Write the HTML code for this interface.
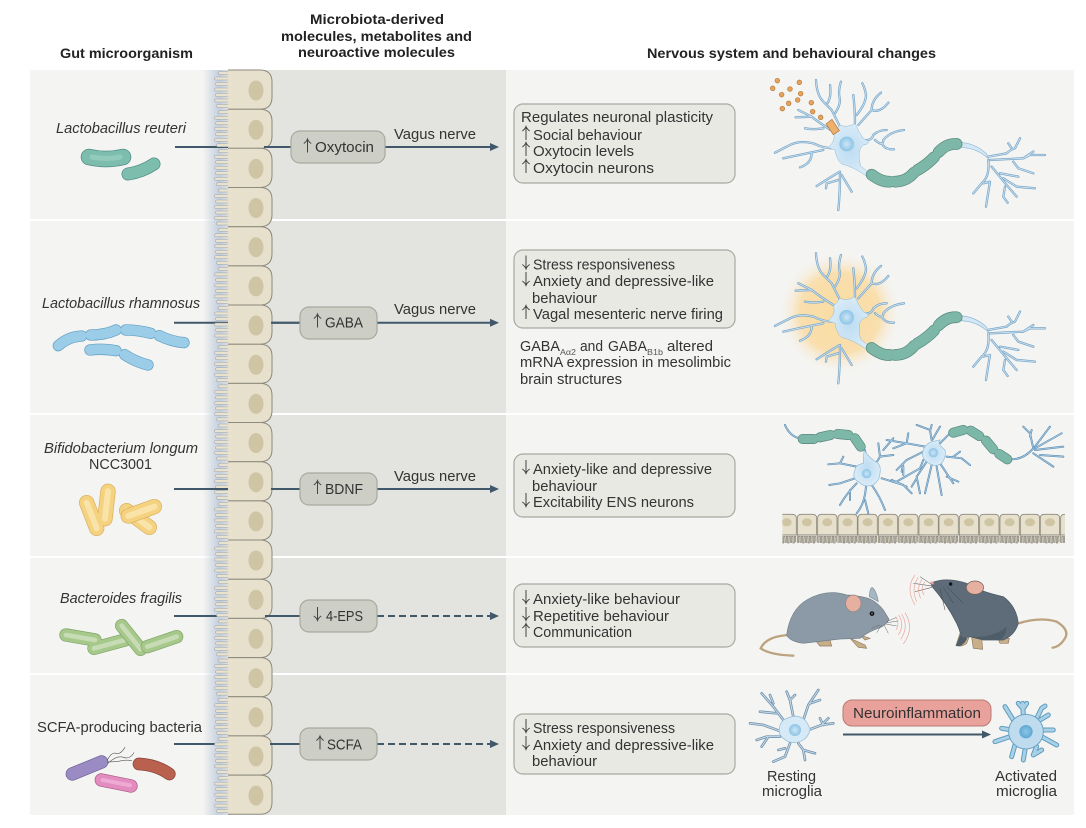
<!DOCTYPE html>
<html><head><meta charset="utf-8">
<style>
html,body{margin:0;padding:0;background:#fff}
svg{display:block}
text{font-family:"Liberation Sans",sans-serif;font-size:15px;fill:#333}
.b{font-weight:bold;font-size:14px;fill:#222}
.i{font-style:italic;font-size:14.5px}
.s{font-size:8px;fill:#555}
</style></head><body>
<svg width="1086" height="828" viewBox="0 0 1086 828" xmlns="http://www.w3.org/2000/svg">
<defs>
<linearGradient id="sh" x1="0" x2="1" y1="0" y2="0"><stop offset="0" stop-color="#c3cfdd" stop-opacity="0"/><stop offset=".6" stop-color="#c3cfde"/><stop offset="1" stop-color="#dfe2e2"/></linearGradient>
<radialGradient id="som"><stop offset="0" stop-color="#bcdcf2"/><stop offset="1" stop-color="#d9ebf7"/></radialGradient>
<radialGradient id="nuc"><stop offset="0" stop-color="#cde6f6"/><stop offset="1" stop-color="#8cc4e6"/></radialGradient>
<radialGradient id="nuc2"><stop offset="0" stop-color="#8cc6e8"/><stop offset="1" stop-color="#5fa8d3"/></radialGradient>
<radialGradient id="glow"><stop offset="0" stop-color="#f9dca0"/><stop offset=".65" stop-color="#f9dfae"/><stop offset="1" stop-color="#f4f4f2" stop-opacity="0"/></radialGradient>
<clipPath id="cm"><rect x="127" y="845" width="848" height="100"/></clipPath>

<path id="ua" d="M4 14V.5M.3 5Q3 3.2 4 .5Q5 3.2 7.7 5" fill="none" stroke="#444" stroke-width="1"/>
<path id="da" d="M4 0V13.5M.3 9Q3 10.8 4 13.5Q5 10.8 7.7 9" fill="none" stroke="#444" stroke-width="1"/>

<g id="cell">
<path d="M228 0H260Q272 0 272 12V27Q272 39.2 260 39.2H228" fill="#e6e0cc" stroke="#8d897b" stroke-width="1"/>
<ellipse cx="256" cy="20.5" rx="7.5" ry="10" fill="#cfc4a4"/>
<path d="M227 3H220M227 8.5H216M227 14H217M227 19.5H216M227 25H217M227 30.5H216M227 36H218" fill="none" stroke="#9ca2a8" stroke-width="3.5" stroke-linecap="round"/>
<path d="M232 3H220M232 8.5H216M232 14H217M232 19.5H216M232 25H217M232 30.5H216M232 36H218" fill="none" stroke="#e8e2cf" stroke-width="2.5" stroke-linecap="round"/>
</g>

<g id="mc">
<path d="M0 62V12Q0 0 12 0H46Q58 0 58 12V62Z" fill="#e6e0cc" stroke="#8d897b" stroke-width="2.5"/>
<ellipse cx="29" cy="24" rx="15" ry="12" fill="#cfc4a4"/>
<path d="M0 62V84H4V66H8V84H12V66H16V86H20V66H24V84H28V66H32V86H36V66H40V84H44V66H48V86H52V66H56V84" stroke="#8d897b" stroke-width="2.5" fill="#e6e0cc"/>
</g>

<path id="n1" d="M300 200L275 150L250 125Q230 105 228 60M262 130Q275 110 270 75M285 160Q305 130 298 110Q295 90 303 65M345 190Q345 150 340 105M350 165Q378 130 378 105Q375 85 367 70M355 195L395 150Q395 120 423 98M395 150Q420 160 445 128M280 215Q240 190 215 170L175 150M215 170L167 172M250 205Q220 210 195 205M365 240Q395 245 400 225Q415 210 440 210M405 240Q430 262 430 240Q450 215 492 210M425 250Q435 270 462 268M280 265Q250 265 220 250Q180 240 150 255L105 278M150 255L130 265M250 270Q200 280 130 295M215 280Q215 310 180 322M300 335Q290 340 230 378M300 340Q300 400 295 450M295 360L260 370L258 385M305 345Q320 370 335 395M745 290L800 280Q810 270 825 265L840 235M815 265L805 250M750 300L850 295L880 275M850 295L870 285L915 285M820 305L835 325L880 340M745 300Q750 350 725 370L700 400M730 370L750 365L738 440M755 320L800 375L830 410M780 340L835 350M790 355L830 380L885 385M795 380L790 410L803 428" fill="none" stroke-linecap="round" stroke-linejoin="round"/>

<path id="n1soma" d="M300 195Q320 205 345 190Q355 215 370 235Q400 250 370 255Q350 270 362 318L395 345L385 352Q340 320 305 312Q290 300 285 270Q270 265 265 262Q290 240 280 218Q290 210 300 195Z" fill="url(#som)" stroke="#8fb8d4" stroke-width="1.5"/>
<path id="n1ax" d="M655 247Q705 248 740 282L745 296L738 290Q705 262 655 262Z" fill="#d3e7f5" stroke="#8fb8d4" stroke-width="2"/>
<path id="n1my" d="M395 344Q425 367 450 365M466 365Q500 364 522 338M533 330Q560 315 582 292M596 276Q620 250 650 252" fill="none" stroke-linecap="round"/>

<path id="n3" d="M350 710L300 700L265 703M310 680L300 700M345 745L300 760L268 765M350 760Q320 790 300 825M330 780L330 810M378 770Q375 820 350 850M375 810L385 850M395 765Q420 800 435 840M405 705L420 680L415 640M420 680L460 675M430 660L460 625M425 745L490 765L515 790M455 750L500 770M470 755L540 715L550 690M490 735L490 710M555 650L500 640L440 630M500 640L505 610M460 655L500 640M550 665L500 690L470 720M490 700L485 725M560 695L530 740L540 790M530 745L515 770M575 705L555 790M590 710L605 795M600 700L640 760M620 740L655 755M620 680L665 685L690 705M640 680L660 665M575 630L570 600L530 585M570 605L575 585M578 628L600 590M880 655L870 610L850 590M870 620L875 600M885 650L915 610L930 590M885 655L965 610M885 660L970 650M880 670L940 710M900 675L970 680M135 585Q150 620 180 625M810 688Q850 690 880 655M600 640L630 610M375 660L380 700" fill="none" stroke-linecap="round" stroke-linejoin="round"/>
<path id="n3my" d="M188 627H222M240 622L272 615M293 612L325 615M345 625L362 650M640 608L670 600M692 602L718 618M738 632L760 658M778 672L802 688" fill="none" stroke-linecap="round"/>

<path id="mg" d="M130 480L100 440L65 400M100 430L90 405M110 460L60 455M125 515L70 495L30 490M120 530L80 530L50 540M85 530L65 560M160 470L150 420L140 395M150 420L165 405M190 480L205 435L235 390M210 430L240 420M205 510L245 495L280 490M250 495L240 475M245 495L265 475M150 550L135 590L100 605M135 565L115 570M175 550L190 570L225 580M190 570L195 600" fill="none" stroke-linecap="round" stroke-linejoin="round"/>
<path id="am" d="M850 465L848 430M848 445L835 430M850 445L860 430M890 475L905 445L915 438M820 480L795 440M815 510L785 505M810 530L765 545M825 555L815 590M855 570L850 600M890 560L880 585L905 570M905 530L950 555M910 510L940 510M900 480L925 465" fill="none" stroke-linecap="round" stroke-linejoin="round"/>
</defs>

<!-- panels -->
<rect x="30" y="70" width="1044" height="149" fill="#f4f4f2"/>
<rect x="30" y="221" width="1044" height="192" fill="#f4f4f2"/>
<rect x="30" y="415" width="1044" height="141" fill="#f4f4f2"/>
<rect x="30" y="558" width="1044" height="115" fill="#f4f4f2"/>
<rect x="30" y="675" width="1044" height="140" fill="#f4f4f2"/>
<g fill="#e3e4df">
<rect x="262" y="70" width="244" height="149"/>
<rect x="262" y="221" width="244" height="192"/>
<rect x="262" y="415" width="244" height="141"/>
<rect x="262" y="558" width="244" height="115"/>
<rect x="262" y="675" width="244" height="140"/>
</g>
<rect x="203" y="70" width="27" height="745" fill="url(#sh)"/>

<!-- connector lines -->
<g stroke="#41586a" stroke-width="2" fill="none">
<path d="M175 147H290M385 147H492"/>
<path d="M174 322.7H300M377 322.7H492"/>
<path d="M174 489H300M377 489H492"/>
<path d="M174 616H300"/>
<path d="M174 744H300"/>
<path d="M377 616H492M377 744H492" stroke-dasharray="7 4"/>
<path d="M843 734.5H985"/>
</g>
<g fill="#41586a">
<path d="M490 143L499 147L490 151Z"/>
<path d="M490 318.7L499 322.7L490 326.7Z"/>
<path d="M490 485L499 489L490 493Z"/>
<path d="M490 612L499 616L490 620Z"/>
<path d="M490 740L499 744L490 748Z"/>
<path d="M982 730.5L991 734.5L982 738.5Z"/>
</g>

<!-- epithelium -->
<use href="#cell" y="70"/><use href="#cell" y="109.2"/><use href="#cell" y="148.3"/><use href="#cell" y="187.5"/><use href="#cell" y="226.7"/><use href="#cell" y="265.9"/><use href="#cell" y="305"/><use href="#cell" y="344.2"/><use href="#cell" y="383.4"/><use href="#cell" y="422.5"/><use href="#cell" y="461.7"/><use href="#cell" y="500.9"/><use href="#cell" y="540"/><use href="#cell" y="579.2"/><use href="#cell" y="618.4"/><use href="#cell" y="657.6"/><use href="#cell" y="696.7"/><use href="#cell" y="735.9"/><use href="#cell" y="775.1"/>
<path d="M264 147H292M271 322.7H300M174 489H228M271 489H300M265 616H300M270 744H300" stroke="#41586a" stroke-width="2"/>

<!-- headers -->
<text class="b" x="60" y="58" textLength="133" lengthAdjust="spacingAndGlyphs">Gut microorganism</text>
<text class="b" x="310" y="24" textLength="134" lengthAdjust="spacingAndGlyphs">Microbiota-derived</text>
<text class="b" x="281" y="41" textLength="191" lengthAdjust="spacingAndGlyphs">molecules, metabolites and</text>
<text class="b" x="298" y="57" textLength="157" lengthAdjust="spacingAndGlyphs">neuroactive molecules</text>
<text class="b" x="647" y="58" textLength="289" lengthAdjust="spacingAndGlyphs">Nervous system and behavioural changes</text>

<!-- left labels -->
<text class="i" x="56" y="133" textLength="130" lengthAdjust="spacingAndGlyphs">Lactobacillus reuteri</text>
<text class="i" x="42" y="308" textLength="158" lengthAdjust="spacingAndGlyphs">Lactobacillus rhamnosus</text>
<text class="i" x="44" y="453" textLength="154" lengthAdjust="spacingAndGlyphs">Bifidobacterium longum</text>
<text x="89" y="469" textLength="63" lengthAdjust="spacingAndGlyphs">NCC3001</text>
<text class="i" x="60" y="603" textLength="122" lengthAdjust="spacingAndGlyphs">Bacteroides fragilis</text>
<text x="37" y="732" textLength="165" lengthAdjust="spacingAndGlyphs">SCFA-producing bacteria</text>

<!-- bacteria -->
<g fill="none" stroke-linecap="round">
<g stroke="#4f8e83"><path stroke-width="16.5" d="M89 157Q106 161 123 157"/><path stroke-width="13" d="M128 174Q142 172 154 164"/></g>
<g stroke="#7dbdae"><path stroke-width="15" d="M89 157Q106 161 123 157"/><path stroke-width="11.5" d="M128 174Q142 172 154 164"/></g>
<g stroke="#92cabc"><path stroke-width="5" d="M92 157Q106 160 120 157"/></g>
</g>
<g transform="translate(30 280) scale(.3333)" fill="none" stroke-linecap="round">
<g stroke="#5f9dc2" stroke-width="34">
<path d="M85 197Q115 170 155 168"/><path d="M182 165Q225 165 258 150"/><path d="M287 150Q325 150 362 160"/><path d="M388 167Q425 185 462 188"/><path d="M180 210Q220 205 258 212"/><path d="M284 224Q315 245 354 255"/>
</g>
<g stroke="#9ccde8" stroke-width="30">
<path d="M85 197Q115 170 155 168"/><path d="M182 165Q225 165 258 150"/><path d="M287 150Q325 150 362 160"/><path d="M388 167Q425 185 462 188"/><path d="M180 210Q220 205 258 212"/><path d="M284 224Q315 245 354 255"/>
</g>
<!-- yellow -->
<g stroke="#d7ae5d" stroke-width="46"><path d="M170 668L200 745"/><path d="M234 634L225 716"/><path d="M290 692L358 742"/></g>
<g stroke="#f5d27f" stroke-width="42"><path d="M170 668L200 745"/><path d="M234 634L225 716"/><path d="M290 692L358 742"/></g>
<g stroke="#f9e3a8" stroke-width="18"><path d="M170 668L200 745"/><path d="M234 634L225 716"/><path d="M290 692L358 742"/></g>
<path stroke="#d7ae5d" stroke-width="46" d="M295 708L373 680"/><path stroke="#f5d27f" stroke-width="42" d="M295 708L373 680"/><path stroke="#f9e3a8" stroke-width="18" d="M295 708L373 680"/>
</g>
<g transform="translate(30 560) scale(.3333)" fill="none" stroke-linecap="round">
<g stroke="#7fa366" stroke-width="40"><path d="M108 225L195 240"/><path d="M192 265L285 240"/></g>
<g stroke="#a6c98b" stroke-width="36"><path d="M108 225L195 240"/><path d="M192 265L285 240"/></g>
<g stroke="#c7dcb4" stroke-width="14"><path d="M108 225L195 240"/><path d="M192 265L285 240"/></g>
<g stroke="#7fa366" stroke-width="40"><path d="M275 197L332 268"/></g>
<g stroke="#a6c98b" stroke-width="36"><path d="M275 197L332 268"/></g>
<g stroke="#c7dcb4" stroke-width="14"><path d="M275 197L332 268"/></g>
<g stroke="#7fa366" stroke-width="40"><path d="M352 260L440 230"/></g>
<g stroke="#a6c98b" stroke-width="36"><path d="M352 260L440 230"/></g>
<g stroke="#c7dcb4" stroke-width="14"><path d="M352 260L440 230"/></g>
<path d="M127 642L215 606" stroke="#6c5e94" stroke-width="40"/><path d="M127 642L215 606" stroke="#9b8bc4" stroke-width="36"/>
<path d="M214 660L303 678" stroke="#a8587f" stroke-width="40"/><path d="M214 660L303 678" stroke="#e28cc0" stroke-width="36"/><path d="M218 660L300 676" stroke="#eeaad2" stroke-width="12"/>
<path d="M327 612Q380 615 418 642" stroke="#853f34" stroke-width="38"/><path d="M327 612Q380 615 418 642" stroke="#b9604f" stroke-width="34"/>
<path d="M232 600Q245 575 258 580T285 562M234 610Q260 585 280 592T312 578M232 606Q262 605 275 602T305 602" stroke="#555" stroke-width="1.8"/>
</g>

<!-- molecule boxes -->
<g fill="#cdcec5" stroke="#a8a99f" stroke-width="1.2">
<rect x="291" y="131" width="94" height="32" rx="9"/>
<rect x="300" y="307" width="77" height="32" rx="9"/>
<rect x="300" y="473" width="77" height="32" rx="9"/>
<rect x="300" y="600" width="77" height="32" rx="9"/>
<rect x="300" y="728" width="77" height="32" rx="9"/>
</g>
<use href="#ua" x="303.5" y="138.5"/><text x="315" y="152" textLength="59" lengthAdjust="spacingAndGlyphs">Oxytocin</text>
<use href="#ua" x="313.5" y="313.5"/><text x="325" y="327.5" textLength="38" lengthAdjust="spacingAndGlyphs">GABA</text>
<use href="#ua" x="313.5" y="480"/><text x="325" y="494" textLength="38" lengthAdjust="spacingAndGlyphs">BDNF</text>
<use href="#da" x="313.5" y="607"/><text x="326" y="621" textLength="37" lengthAdjust="spacingAndGlyphs">4-EPS</text>
<use href="#ua" x="316" y="735.5"/><text x="327" y="749.5" textLength="35" lengthAdjust="spacingAndGlyphs">SCFA</text>
<text x="394" y="139" textLength="82" lengthAdjust="spacingAndGlyphs">Vagus  nerve</text>
<text x="394" y="314" textLength="82" lengthAdjust="spacingAndGlyphs">Vagus  nerve</text>
<text x="394" y="481" textLength="82" lengthAdjust="spacingAndGlyphs">Vagus  nerve</text>

<!-- effects boxes -->
<g fill="#e9e9e4" stroke="#a8a99f" stroke-width="1.2">
<rect x="514" y="104" width="221" height="79" rx="9"/>
<rect x="514" y="250" width="221" height="78" rx="9"/>
<rect x="514" y="454" width="221" height="63" rx="9"/>
<rect x="514" y="584" width="221" height="63" rx="9"/>
<rect x="514" y="714" width="221" height="60" rx="9"/>
</g>
<text x="521" y="122" textLength="192" lengthAdjust="spacingAndGlyphs">Regulates neuronal plasticity</text>
<use href="#ua" x="522" y="126"/><text x="533" y="140" textLength="109" lengthAdjust="spacingAndGlyphs">Social behaviour</text>
<use href="#ua" x="522" y="142"/><text x="533" y="156" textLength="101" lengthAdjust="spacingAndGlyphs">Oxytocin levels</text>
<use href="#ua" x="522" y="159"/><text x="533" y="173" textLength="121" lengthAdjust="spacingAndGlyphs">Oxytocin  neurons</text>

<use href="#da" x="522" y="255.5"/><text x="533" y="269.5" textLength="142" lengthAdjust="spacingAndGlyphs">Stress responsiveness</text>
<use href="#da" x="522" y="272"/><text x="533" y="286" textLength="181" lengthAdjust="spacingAndGlyphs">Anxiety and depressive-like</text>
<text x="532" y="303" textLength="65" lengthAdjust="spacingAndGlyphs">behaviour</text>
<use href="#ua" x="522" y="305"/><text x="533" y="319" textLength="190" lengthAdjust="spacingAndGlyphs">Vagal mesenteric nerve firing</text>

<text x="520" y="351" textLength="40" lengthAdjust="spacingAndGlyphs">GABA</text><text class="s" x="560" y="355" textLength="16" lengthAdjust="spacingAndGlyphs">Aα2</text>
<text x="580" y="351" textLength="23" lengthAdjust="spacingAndGlyphs">and</text><text x="608" y="351" textLength="39" lengthAdjust="spacingAndGlyphs">GABA</text><text class="s" x="647" y="355" textLength="16" lengthAdjust="spacingAndGlyphs">B1b</text>
<text x="667" y="351" textLength="46" lengthAdjust="spacingAndGlyphs">altered</text>
<text x="520" y="367" textLength="211" lengthAdjust="spacingAndGlyphs">mRNA expression in mesolimbic</text>
<text x="520" y="384" textLength="102" lengthAdjust="spacingAndGlyphs">brain structures</text>

<use href="#da" x="522" y="460"/><text x="533" y="474" textLength="179" lengthAdjust="spacingAndGlyphs">Anxiety-like and depressive</text>
<text x="532" y="491" textLength="65" lengthAdjust="spacingAndGlyphs">behaviour</text>
<use href="#da" x="522" y="493"/><text x="533" y="507" textLength="161" lengthAdjust="spacingAndGlyphs">Excitability ENS neurons</text>

<use href="#da" x="522" y="590"/><text x="533" y="604" textLength="147" lengthAdjust="spacingAndGlyphs">Anxiety-like behaviour</text>
<use href="#da" x="522" y="607"/><text x="533" y="621" textLength="136" lengthAdjust="spacingAndGlyphs">Repetitive behaviour</text>
<use href="#ua" x="522" y="623"/><text x="533" y="637" textLength="99" lengthAdjust="spacingAndGlyphs">Communication</text>

<use href="#da" x="522" y="719"/><text x="533" y="733" textLength="142" lengthAdjust="spacingAndGlyphs">Stress responsiveness</text>
<use href="#da" x="522" y="736"/><text x="533" y="750" textLength="181" lengthAdjust="spacingAndGlyphs">Anxiety and depressive-like</text>
<text x="532" y="766" textLength="65" lengthAdjust="spacingAndGlyphs">behaviour</text>

<!-- neuron 1 -->
<g transform="translate(740 60) scale(.3333)">
<g fill="#e8a25c" stroke="#b07a3c" stroke-width="2"><circle cx="112" cy="62" r="7"/><circle cx="178" cy="67" r="7"/><circle cx="98" cy="85" r="7"/><circle cx="150" cy="87" r="7"/><circle cx="125" cy="104" r="7"/><circle cx="182" cy="101" r="7"/><circle cx="173" cy="120" r="7"/><circle cx="146" cy="130" r="7"/><circle cx="214" cy="128" r="7"/><circle cx="127" cy="146" r="7"/><circle cx="218" cy="155" r="7"/><circle cx="242" cy="172" r="7"/></g>
<use href="#n1" stroke="#7ba7c8" stroke-width="7"/>
<use href="#n1" stroke="#cfe4f3" stroke-width="2.5"/>
<use href="#n1soma"/><use href="#n1ax"/>
<circle cx="320" cy="252" r="22" fill="url(#nuc)"/>
<path d="M258 192L276 178L298 212L280 224Z" fill="#efb06c" stroke="#a8713a" stroke-width="2"/>
<use href="#n1my" stroke="#54857b" stroke-width="35"/>
<use href="#n1my" stroke="#7db7a8" stroke-width="31"/>
</g>

<!-- neuron 2 -->
<circle cx="840" cy="313" r="62" fill="url(#glow)"/>
<g transform="translate(740 233.3) scale(.3333)">
<use href="#n1" stroke="#7ba7c8" stroke-width="7"/>
<use href="#n1" stroke="#cfe4f3" stroke-width="2.5"/>
<use href="#n1soma"/><use href="#n1ax"/>
<circle cx="320" cy="252" r="22" fill="url(#nuc)"/>
<use href="#n1my" stroke="#54857b" stroke-width="35"/>
<use href="#n1my" stroke="#7db7a8" stroke-width="31"/>
</g>

<!-- row 3 neurons + epithelium -->
<g transform="translate(740 230) scale(.3333)">
<g clip-path="url(#cm)"><use href="#mc" x="111" y="853"/><use href="#mc" x="172" y="853"/><use href="#mc" x="233" y="853"/><use href="#mc" x="294" y="853"/><use href="#mc" x="354" y="853"/><use href="#mc" x="415" y="853"/><use href="#mc" x="476" y="853"/><use href="#mc" x="537" y="853"/><use href="#mc" x="597" y="853"/><use href="#mc" x="658" y="853"/><use href="#mc" x="719" y="853"/><use href="#mc" x="780" y="853"/><use href="#mc" x="841" y="853"/><use href="#mc" x="901" y="853"/><use href="#mc" x="962" y="853"/></g>
<use href="#n3" stroke="#5f8fb5" stroke-width="6"/>
<use href="#n3" stroke="#bcd9ec" stroke-width="1.8"/>
<path d="M372 660Q385 680 402 692Q425 700 420 730Q420 750 400 765Q375 775 355 755Q335 745 345 720Q345 705 370 700Z" fill="url(#som)" stroke="#8fb8d4" stroke-width="2"/>
<path d="M600 630Q590 640 615 660Q620 680 605 700Q585 715 560 695Q540 680 552 655Q560 640 575 635Z" fill="url(#som)" stroke="#8fb8d4" stroke-width="2"/>
<circle cx="380" cy="731" r="14" fill="url(#nuc)"/>
<circle cx="580" cy="668" r="14" fill="url(#nuc)"/>
<use href="#n3my" stroke="#54857b" stroke-width="30"/>
<use href="#n3my" stroke="#7db7a8" stroke-width="26"/>
</g>

<!-- mice & microglia -->
<g transform="translate(740 560) scale(.3333)">
<path d="M148 225Q80 228 62 265Q90 285 160 287" fill="none" stroke="#bca37f" stroke-width="7" stroke-linecap="round"/>
<path d="M388 110Q390 80 398 83Q410 95 415 125Z" fill="#a6b7c3" stroke="#7e8e9a" stroke-width="2"/>
<path d="M225 240L270 240L275 258L240 258ZM330 235L375 255L380 265L355 262ZM360 225L390 235L375 240Z" fill="#c9ae8a" stroke="#8f7a5d" stroke-width="2"/>
<path d="M140 225Q150 150 200 120Q260 85 320 105Q345 105 385 115Q410 125 430 150L447 178Q440 195 415 205Q385 215 360 235L300 237L190 250Q150 245 140 225Z" fill="#8b9aa6" stroke="#6f7e8a" stroke-width="2"/>
<ellipse cx="340" cy="130" rx="23" ry="25" fill="#e6b0a0" stroke="#97857e" stroke-width="2"/>
<circle cx="396" cy="161" r="7" fill="#111"/><circle cx="396" cy="161" r="3" fill="#666"/>
<path d="M440 185L470 172M440 188L475 183M438 192L470 198M432 195L445 220M425 195L410 218M420 195L395 205" stroke="#666" stroke-width="1.5" fill="none"/>
<g fill="none" stroke="#e7a49e" stroke-width="2"><path d="M467 170Q480 190 468 210"/><path d="M476 165Q495 195 475 225"/><path d="M485 162Q508 200 482 238"/><path d="M495 158Q525 205 490 252"/></g>

<path d="M835 190Q900 170 950 185Q990 210 975 235Q960 260 938 263" fill="none" stroke="#bca37f" stroke-width="7" stroke-linecap="round"/>
<path d="M648 256Q665 262 680 250L690 225L660 220ZM700 265L728 268L725 232L695 232ZM775 238L808 235L805 250L780 250Z" fill="#c9ae8a" stroke="#8f7a5d" stroke-width="2"/>
<path d="M648 258Q668 262 682 235L660 225Z" fill="#4f5d68"/>
<path d="M575 68Q620 50 680 70Q720 95 790 110Q830 140 835 190Q825 225 790 240L730 240L690 230L665 235Q660 210 650 190Q620 130 575 78Z" fill="#5d6c78" stroke="#485660" stroke-width="2"/>
<path d="M690 230Q760 235 800 200Q800 225 780 240L730 240Z" fill="#4f5d68"/>
<ellipse cx="705" cy="83" rx="26" ry="20" fill="#e6b0a0" stroke="#6f5e58" stroke-width="2"/>
<circle cx="632" cy="72" r="5" fill="#111"/>
<circle cx="576" cy="69" r="5" fill="#e9a9a0"/>
<path d="M578 75L540 50M576 78L520 70M576 82L525 95M600 85L615 150M610 82L640 130M620 80L670 130" stroke="#444" stroke-width="1.5" fill="none"/>
<g fill="none" stroke="#e7a49e" stroke-width="2"><path d="M555 65Q540 85 552 105"/><path d="M546 58Q528 85 542 115"/><path d="M535 52Q512 85 530 125"/><path d="M525 45Q495 85 525 135"/></g>

<!-- resting -->
<use href="#mg" stroke="#7193ae" stroke-width="8"/>
<use href="#mg" stroke="#c9dcea" stroke-width="3"/>
<path d="M130 480Q150 470 165 468Q185 470 195 480Q210 500 210 510Q205 530 190 540Q170 552 145 545Q125 535 118 520Q115 495 130 480Z" fill="#d5e9f6" stroke="#8fb8d4" stroke-width="2"/>
<circle cx="165" cy="510" r="18" fill="url(#nuc)"/>
<!-- activated -->
<use href="#am" stroke="#5f9cbf" stroke-width="15"/>
<use href="#am" stroke="#a8d0e6" stroke-width="9"/>
<circle cx="858" cy="515" r="52" fill="#bfdcee" stroke="#6ba4c6" stroke-width="3"/>
<circle cx="858" cy="515" r="20" fill="url(#nuc2)"/>
</g>

<rect x="843" y="700" width="148" height="26" rx="9" fill="#e9a19b" stroke="#b97a75" stroke-width="1"/>
<text x="853" y="718" textLength="128" lengthAdjust="spacingAndGlyphs">Neuroinflammation</text>
<text x="767" y="781" textLength="49" lengthAdjust="spacingAndGlyphs">Resting</text>
<text x="762" y="796" textLength="60" lengthAdjust="spacingAndGlyphs">microglia</text>
<text x="995" y="781" textLength="62" lengthAdjust="spacingAndGlyphs">Activated</text>
<text x="996" y="796" textLength="61" lengthAdjust="spacingAndGlyphs">microglia</text>
</svg>
</body></html>
